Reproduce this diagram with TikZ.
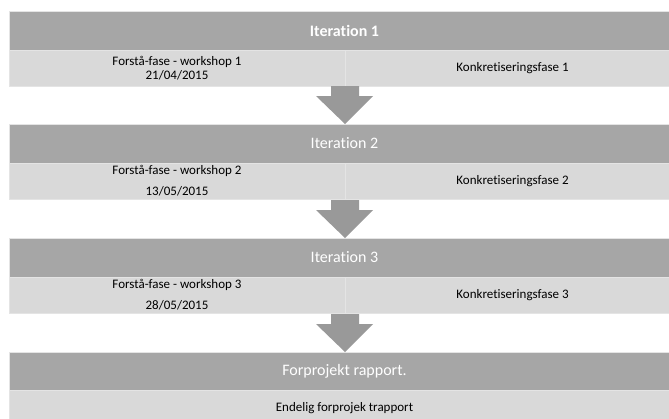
\documentclass[tikz,border=0pt]{standalone}
\usepackage{fontspec}
\setmainfont[Ligatures={NoCommon}]{Carlito}
\definecolor{hdrgray}{HTML}{A6A6A6}
\definecolor{subgray}{HTML}{D9D9D9}
\definecolor{arrgray}{HTML}{999999}
\definecolor{edgegray}{HTML}{E4E4E4}
\tikzset{
  box/.style={rectangle, inner sep=0pt, outer sep=0pt, anchor=north west, draw=edgegray, line width=0.6pt},
  hdr/.style={box, fill=hdrgray, text=white, font=\fontsize{16}{19}\selectfont, minimum width=671pt, minimum height=39pt},
  subl/.style={box, fill=subgray, text=black, align=center, minimum width=336pt, minimum height=36pt},
  subr/.style={box, fill=subgray, text=black, align=center, minimum width=335pt, minimum height=36pt},
  subw/.style={box, fill=subgray, text=black, align=center, minimum width=671pt, minimum height=37pt},
  blockarrow/.style={fill=arrgray, draw=none},
}
\newcommand{\subfont}{\fontsize{13}{14}\selectfont}
\newcommand{\subfontwide}{\fontsize{13}{21}\selectfont}
\begin{document}
\begin{tikzpicture}[x=1pt,y=-1pt]
\useasboundingbox (0,0) rectangle (669,418);
\clip (0,0) rectangle (669,418);
\fill[white] (0,0) rectangle (669,418);

% Iteration 1
\node[hdr] (h1) at (9,11) {\bfseries Iteration 1};
\node[subl, font=\subfont] (s1l) at (9,50) {Forstå-fase - workshop 1\\21/04/2015};
\node[subr, font=\subfont] (s1r) at (345,50) {Konkretiseringsfase 1};

% Iteration 2
\node[hdr] (h2) at (9,124) {Iteration 2};
\node[subl, font=\subfontwide] (s2l) at (9,163) {Forstå-fase - workshop 2\\13/05/2015};
\node[subr, font=\subfont] (s2r) at (345,163) {Konkretiseringsfase 2};

% Iteration 3
\node[hdr] (h3) at (9,238) {Iteration 3};
\node[subl, font=\subfontwide] (s3l) at (9,277) {Forstå-fase - workshop 3\\28/05/2015};
\node[subr, font=\subfont] (s3r) at (345,277) {Konkretiseringsfase 3};

% Final
\node[hdr] (h4) at (9,352) {Forprojekt rapport.};
\node[subw, font=\subfont] (s4) at (9,390) {Endelig forprojek trapport};

% Block arrows
\foreach \top/\tip in {86/124, 200/238, 314/352}{
  \fill[blockarrow] (331,\top) -- (359,\top) -- (359,\top+10) -- (373,\top+10)
    -- (345,\tip) -- (316,\top+10) -- (331,\top+10) -- cycle;
}
\end{tikzpicture}
\end{document}
